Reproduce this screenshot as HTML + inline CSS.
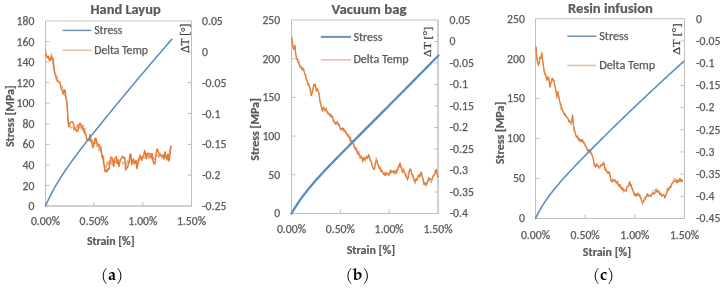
<!DOCTYPE html>
<html><head><meta charset="utf-8"><title>Figure</title>
<style>
html,body{margin:0;padding:0;background:#fff;}
body{width:727px;height:288px;overflow:hidden;}
svg{display:block;}
</style></head>
<body>
<svg width="727" height="288" viewBox="0 0 727 288">
<rect width="727" height="288" fill="#fff"/>
<rect x="45.5" y="21" width="146.0" height="185" fill="none" stroke="#C4C4C4" stroke-width="1"/>
<line x1="45.5" y1="21" x2="45.5" y2="206" stroke="#BFBFBF" stroke-width="1"/>
<line x1="191.5" y1="21" x2="191.5" y2="206" stroke="#BFBFBF" stroke-width="1"/>
<line x1="45.5" y1="206" x2="191.5" y2="206" stroke="#BFBFBF" stroke-width="1"/>
<text x="34.40" y="210.10" font-size="11.7" font-family="Carlito, 'Liberation Sans', sans-serif" text-anchor="end" fill="#595959" stroke="#595959" stroke-width="0.25" textLength="5.93" lengthAdjust="spacingAndGlyphs">0</text>
<line x1="45.5" y1="185.44" x2="49.5" y2="185.44" stroke="#BFBFBF" stroke-width="1"/>
<text x="34.40" y="189.54" font-size="11.7" font-family="Carlito, 'Liberation Sans', sans-serif" text-anchor="end" fill="#595959" stroke="#595959" stroke-width="0.25" textLength="11.86" lengthAdjust="spacingAndGlyphs">20</text>
<line x1="45.5" y1="164.89" x2="49.5" y2="164.89" stroke="#BFBFBF" stroke-width="1"/>
<text x="34.40" y="168.99" font-size="11.7" font-family="Carlito, 'Liberation Sans', sans-serif" text-anchor="end" fill="#595959" stroke="#595959" stroke-width="0.25" textLength="11.86" lengthAdjust="spacingAndGlyphs">40</text>
<line x1="45.5" y1="144.33" x2="49.5" y2="144.33" stroke="#BFBFBF" stroke-width="1"/>
<text x="34.40" y="148.43" font-size="11.7" font-family="Carlito, 'Liberation Sans', sans-serif" text-anchor="end" fill="#595959" stroke="#595959" stroke-width="0.25" textLength="11.86" lengthAdjust="spacingAndGlyphs">60</text>
<line x1="45.5" y1="123.78" x2="49.5" y2="123.78" stroke="#BFBFBF" stroke-width="1"/>
<text x="34.40" y="127.88" font-size="11.7" font-family="Carlito, 'Liberation Sans', sans-serif" text-anchor="end" fill="#595959" stroke="#595959" stroke-width="0.25" textLength="11.86" lengthAdjust="spacingAndGlyphs">80</text>
<line x1="45.5" y1="103.22" x2="49.5" y2="103.22" stroke="#BFBFBF" stroke-width="1"/>
<text x="34.40" y="107.32" font-size="11.7" font-family="Carlito, 'Liberation Sans', sans-serif" text-anchor="end" fill="#595959" stroke="#595959" stroke-width="0.25" textLength="17.79" lengthAdjust="spacingAndGlyphs">100</text>
<line x1="45.5" y1="82.67" x2="49.5" y2="82.67" stroke="#BFBFBF" stroke-width="1"/>
<text x="34.40" y="86.77" font-size="11.7" font-family="Carlito, 'Liberation Sans', sans-serif" text-anchor="end" fill="#595959" stroke="#595959" stroke-width="0.25" textLength="17.79" lengthAdjust="spacingAndGlyphs">120</text>
<line x1="45.5" y1="62.11" x2="49.5" y2="62.11" stroke="#BFBFBF" stroke-width="1"/>
<text x="34.40" y="66.21" font-size="11.7" font-family="Carlito, 'Liberation Sans', sans-serif" text-anchor="end" fill="#595959" stroke="#595959" stroke-width="0.25" textLength="17.79" lengthAdjust="spacingAndGlyphs">140</text>
<line x1="45.5" y1="41.56" x2="49.5" y2="41.56" stroke="#BFBFBF" stroke-width="1"/>
<text x="34.40" y="45.66" font-size="11.7" font-family="Carlito, 'Liberation Sans', sans-serif" text-anchor="end" fill="#595959" stroke="#595959" stroke-width="0.25" textLength="17.79" lengthAdjust="spacingAndGlyphs">160</text>
<text x="34.40" y="25.10" font-size="11.7" font-family="Carlito, 'Liberation Sans', sans-serif" text-anchor="end" fill="#595959" stroke="#595959" stroke-width="0.25" textLength="17.79" lengthAdjust="spacingAndGlyphs">180</text>
<text x="202.00" y="210.10" font-size="11.7" font-family="Carlito, 'Liberation Sans', sans-serif" text-anchor="start" fill="#595959" stroke="#595959" stroke-width="0.25" textLength="24.33" lengthAdjust="spacingAndGlyphs">-0.25</text>
<line x1="187.5" y1="175.17" x2="191.5" y2="175.17" stroke="#BFBFBF" stroke-width="1"/>
<text x="202.00" y="179.27" font-size="11.7" font-family="Carlito, 'Liberation Sans', sans-serif" text-anchor="start" fill="#595959" stroke="#595959" stroke-width="0.25" textLength="18.40" lengthAdjust="spacingAndGlyphs">-0.2</text>
<line x1="187.5" y1="144.33" x2="191.5" y2="144.33" stroke="#BFBFBF" stroke-width="1"/>
<text x="202.00" y="148.43" font-size="11.7" font-family="Carlito, 'Liberation Sans', sans-serif" text-anchor="start" fill="#595959" stroke="#595959" stroke-width="0.25" textLength="24.33" lengthAdjust="spacingAndGlyphs">-0.15</text>
<line x1="187.5" y1="113.50" x2="191.5" y2="113.50" stroke="#BFBFBF" stroke-width="1"/>
<text x="202.00" y="117.60" font-size="11.7" font-family="Carlito, 'Liberation Sans', sans-serif" text-anchor="start" fill="#595959" stroke="#595959" stroke-width="0.25" textLength="18.40" lengthAdjust="spacingAndGlyphs">-0.1</text>
<line x1="187.5" y1="82.67" x2="191.5" y2="82.67" stroke="#BFBFBF" stroke-width="1"/>
<text x="202.00" y="86.77" font-size="11.7" font-family="Carlito, 'Liberation Sans', sans-serif" text-anchor="start" fill="#595959" stroke="#595959" stroke-width="0.25" textLength="24.33" lengthAdjust="spacingAndGlyphs">-0.05</text>
<line x1="187.5" y1="51.83" x2="191.5" y2="51.83" stroke="#BFBFBF" stroke-width="1"/>
<text x="202.00" y="55.93" font-size="11.7" font-family="Carlito, 'Liberation Sans', sans-serif" text-anchor="start" fill="#595959" stroke="#595959" stroke-width="0.25" textLength="5.93" lengthAdjust="spacingAndGlyphs">0</text>
<text x="202.00" y="25.10" font-size="11.7" font-family="Carlito, 'Liberation Sans', sans-serif" text-anchor="start" fill="#595959" stroke="#595959" stroke-width="0.25" textLength="20.74" lengthAdjust="spacingAndGlyphs">0.05</text>
<text x="45.50" y="225.00" font-size="11.7" font-family="Carlito, 'Liberation Sans', sans-serif" text-anchor="middle" fill="#595959" stroke="#595959" stroke-width="0.25" textLength="29.11" lengthAdjust="spacingAndGlyphs">0.00%</text>
<line x1="94.17" y1="202" x2="94.17" y2="206" stroke="#BFBFBF" stroke-width="1"/>
<text x="94.17" y="225.00" font-size="11.7" font-family="Carlito, 'Liberation Sans', sans-serif" text-anchor="middle" fill="#595959" stroke="#595959" stroke-width="0.25" textLength="29.11" lengthAdjust="spacingAndGlyphs">0.50%</text>
<line x1="142.83" y1="202" x2="142.83" y2="206" stroke="#BFBFBF" stroke-width="1"/>
<text x="142.83" y="225.00" font-size="11.7" font-family="Carlito, 'Liberation Sans', sans-serif" text-anchor="middle" fill="#595959" stroke="#595959" stroke-width="0.25" textLength="29.11" lengthAdjust="spacingAndGlyphs">1.00%</text>
<text x="191.50" y="225.00" font-size="11.7" font-family="Carlito, 'Liberation Sans', sans-serif" text-anchor="middle" fill="#595959" stroke="#595959" stroke-width="0.25" textLength="29.11" lengthAdjust="spacingAndGlyphs">1.50%</text>
<text x="125.60" y="13.90" font-size="14.4" font-family="Carlito, 'Liberation Sans', sans-serif" font-weight="bold" text-anchor="middle" fill="#595959" stroke="#595959" stroke-width="0.2" textLength="70.12" lengthAdjust="spacingAndGlyphs">Hand Layup</text>
<text x="110.70" y="245.40" font-size="11.8" font-family="Carlito, 'Liberation Sans', sans-serif" font-weight="bold" text-anchor="middle" fill="#595959" stroke="#595959" stroke-width="0.2" textLength="47.59" lengthAdjust="spacingAndGlyphs">Strain [%]</text>
<text transform="translate(14.00,116.20) rotate(-90)" font-size="11.8" font-family="Carlito, 'Liberation Sans', sans-serif" font-weight="bold" text-anchor="middle" fill="#595959" stroke="#595959" stroke-width="0.2" textLength="61.60" lengthAdjust="spacingAndGlyphs">Stress [MPa]</text>
<text transform="translate(188.90,38.20) rotate(-90)" font-size="12" font-family="'Liberation Serif', serif" text-anchor="middle" fill="#404040" stroke="#404040" stroke-width="0.25" textLength="29.2" lengthAdjust="spacingAndGlyphs">ΔT [°]</text>
<line x1="62.6" y1="30.4" x2="91.4" y2="30.4" stroke="#6A92BC" stroke-width="1.5"/>
<line x1="62.6" y1="50.3" x2="91.4" y2="50.3" stroke="#E8BC9E" stroke-width="1.6"/>
<text x="94.20" y="33.90" font-size="11.7" font-family="Carlito, 'Liberation Sans', sans-serif" text-anchor="start" fill="#595959" stroke="#595959" stroke-width="0.25" textLength="28.19" lengthAdjust="spacingAndGlyphs">Stress</text>
<text x="94.20" y="53.50" font-size="11.7" font-family="Carlito, 'Liberation Sans', sans-serif" text-anchor="start" fill="#595959" stroke="#595959" stroke-width="0.25" textLength="53.71" lengthAdjust="spacingAndGlyphs">Delta Temp</text>
<polyline points="45.70,54.28 47.00,56.88 47.75,57.90 48.50,56.20 49.50,60.34 50.50,60.02 51.50,55.99 52.25,58.67 53.00,58.20 54.00,69.83 54.75,73.23 55.50,74.71 56.25,78.73 57.00,80.74 57.75,81.51 58.50,81.81 59.25,81.65 60.00,82.47 60.75,86.63 61.50,89.88 62.25,90.80 63.00,93.93 63.75,93.07 64.50,89.65 65.25,91.20 66.00,98.76 66.80,101.26 67.50,110.63 68.00,119.27 69.00,126.69 70.00,123.20 71.00,122.20 72.00,121.57 73.00,122.59 74.00,125.69 75.00,129.78 76.00,129.92 77.00,131.47 78.00,130.80 79.00,124.76 80.00,123.20 81.00,124.91 82.00,125.24 83.00,129.46 84.00,131.39 85.00,133.64 85.75,134.43 86.50,137.95 87.25,139.96 88.00,140.13 89.00,140.84 90.00,134.44 91.00,141.16 92.00,143.78 93.00,147.80 94.00,144.36 95.00,138.25 96.00,138.37 97.00,142.91 98.00,144.76 99.00,144.53 100.00,147.50 101.00,147.20 102.00,157.51 103.00,155.91 104.00,164.38 105.00,171.74 106.00,169.78 107.00,172.04 108.00,168.57 109.00,169.41 110.00,161.81 111.00,156.94 112.00,158.02 112.86,161.44 113.71,166.46 114.57,158.48 115.43,157.79 116.29,156.77 117.14,163.37 118.00,159.77 118.86,166.28 119.71,162.41 120.57,159.29 121.43,158.32 122.29,156.39 123.14,156.67 124.00,158.38 124.86,157.72 125.71,170.00 126.57,167.19 127.43,167.88 128.29,164.56 129.14,161.47 130.00,154.32 130.86,154.10 131.71,164.72 132.57,160.51 133.43,158.97 134.29,163.94 135.14,161.64 136.00,160.71 136.86,168.47 137.71,165.27 138.57,160.22 139.43,157.81 140.29,155.10 141.14,158.53 142.00,160.45 142.86,156.19 143.71,155.89 144.57,150.53 145.43,153.21 146.29,158.64 147.14,153.28 148.00,154.87 149.00,153.14 150.00,153.67 151.00,157.49 152.00,153.48 153.00,160.67 154.00,164.00 155.00,163.54 156.00,154.74 157.00,148.96 158.00,150.61 159.00,154.39 160.00,155.12 161.00,155.04 162.00,156.08 163.00,154.94 164.00,159.11 165.00,151.75 166.00,157.02 167.00,159.94 168.00,154.15 169.00,161.04 170.00,154.02 171.00,146.00" fill="none" stroke="#E57C38" stroke-width="1.5" stroke-linejoin="round" stroke-linecap="round"/>
<polyline points="45.70,49.25 47.00,56.68 48.50,59.24 49.50,59.63 50.50,61.52 51.50,53.89 53.00,64.93 54.00,64.85 55.50,77.04 57.00,75.82 58.50,80.33 60.00,84.06 61.50,85.61 63.00,88.44 64.50,96.01 66.00,96.01 66.80,103.86 67.50,112.52 68.00,124.18 69.00,127.29 70.00,126.20 71.00,128.38 72.00,127.61 73.00,126.56 74.00,130.42 75.00,127.11 76.00,130.14 77.00,124.22 78.00,128.23 79.00,125.09 80.00,128.58 81.00,125.05 82.00,129.63 83.00,125.41 84.00,131.72 85.00,127.93 86.50,138.87 88.00,139.34 89.00,139.54 90.00,137.30 91.00,142.05 92.00,138.92 93.00,144.72 94.00,141.08 95.00,143.98 96.00,139.90 97.00,147.21 98.00,144.99 99.00,151.22 100.00,148.31 101.00,153.07 102.00,153.97 103.00,161.50 104.00,165.40 105.00,165.00 106.00,168.22 107.00,161.87 108.00,165.15 109.00,160.68 110.00,164.48 111.00,159.92 112.00,165.16 113.20,164.33 114.40,164.10 115.60,160.71 116.80,163.99 118.00,159.98 119.20,162.89 120.40,160.23 121.60,161.79 122.80,164.52 124.00,161.88 125.20,161.06 126.40,165.12 127.60,160.49 128.80,163.67 130.00,157.52 131.20,161.65 132.40,162.13 133.60,159.52 134.80,164.03 136.00,160.44 137.20,163.30 138.40,158.36 139.60,160.70 140.80,157.24 142.00,158.52 143.20,156.08 144.40,158.53 145.60,155.60 146.80,158.93 148.00,154.65 149.00,158.83 150.00,154.89 151.00,158.71 152.00,159.41 153.00,156.61 154.00,159.75 155.00,159.30 156.00,154.43 157.00,156.48 158.00,154.85 159.00,157.99 160.00,152.55 161.00,157.51 162.00,158.16 163.00,154.37 164.00,157.91 165.00,158.37 166.00,155.11 167.00,158.96 168.00,154.40 169.00,155.27 170.00,148.00 171.00,146.00" fill="none" stroke="#E57C38" stroke-width="0.8" stroke-linejoin="round" stroke-linecap="round" stroke-opacity="0.85"/>
<polyline points="45.50,206.00 46.00,204.86 46.50,203.73 47.00,202.63 47.50,201.54 48.00,200.47 48.50,199.42 49.00,198.38 49.50,197.36 50.00,196.35 50.50,195.36 51.00,194.38 51.50,193.42 52.50,191.53 54.50,187.89 56.50,184.41 58.50,181.08 60.50,177.86 62.50,174.75 64.50,171.73 66.50,168.78 68.50,165.90 70.50,163.08 72.50,160.31 74.50,157.58 76.50,154.88 78.50,152.22 80.50,149.59 82.50,146.98 84.50,144.39 86.50,141.82 88.50,139.27 90.50,136.73 92.50,134.21 94.50,131.69 96.50,129.19 98.50,126.70 100.50,124.22 102.50,121.75 104.50,119.28 106.50,116.82 108.50,114.37 110.50,111.92 112.50,109.49 114.50,107.05 116.50,104.62 118.50,102.20 120.50,99.78 122.50,97.37 124.50,94.96 126.50,92.56 128.50,90.16 130.50,87.77 132.50,85.38 134.50,83.00 136.50,80.62 138.50,78.24 140.50,75.87 142.50,73.50 144.50,71.14 146.50,68.78 148.50,66.43 150.50,64.08 152.50,61.73 154.50,59.39 156.50,57.05 158.50,54.72 160.50,52.39 162.50,50.07 164.50,47.75 166.50,45.43 168.50,43.12 170.50,40.81 171.90,39.20" fill="none" stroke="#5A8CC2" stroke-width="1.55" stroke-linejoin="round" stroke-linecap="round"/>
<text x="112.00" y="280.40" font-size="16" font-family="'TeX Gyre Pagella', 'Liberation Serif', serif" text-anchor="middle" fill="#000">(<tspan font-weight="bold">a</tspan>)</text>
<rect x="291.5" y="20" width="146.5" height="193.5" fill="none" stroke="#C4C4C4" stroke-width="1"/>
<line x1="291.5" y1="20" x2="291.5" y2="213.5" stroke="#BFBFBF" stroke-width="1"/>
<line x1="438" y1="20" x2="438" y2="213.5" stroke="#BFBFBF" stroke-width="1"/>
<line x1="291.5" y1="213.5" x2="438" y2="213.5" stroke="#BFBFBF" stroke-width="1"/>
<text x="280.20" y="217.30" font-size="11.7" font-family="Carlito, 'Liberation Sans', sans-serif" text-anchor="end" fill="#595959" stroke="#595959" stroke-width="0.25" textLength="5.93" lengthAdjust="spacingAndGlyphs">0</text>
<line x1="291.5" y1="174.80" x2="295.5" y2="174.80" stroke="#BFBFBF" stroke-width="1"/>
<text x="280.20" y="178.60" font-size="11.7" font-family="Carlito, 'Liberation Sans', sans-serif" text-anchor="end" fill="#595959" stroke="#595959" stroke-width="0.25" textLength="11.86" lengthAdjust="spacingAndGlyphs">50</text>
<line x1="291.5" y1="136.10" x2="295.5" y2="136.10" stroke="#BFBFBF" stroke-width="1"/>
<text x="280.20" y="139.90" font-size="11.7" font-family="Carlito, 'Liberation Sans', sans-serif" text-anchor="end" fill="#595959" stroke="#595959" stroke-width="0.25" textLength="17.79" lengthAdjust="spacingAndGlyphs">100</text>
<line x1="291.5" y1="97.40" x2="295.5" y2="97.40" stroke="#BFBFBF" stroke-width="1"/>
<text x="280.20" y="101.20" font-size="11.7" font-family="Carlito, 'Liberation Sans', sans-serif" text-anchor="end" fill="#595959" stroke="#595959" stroke-width="0.25" textLength="17.79" lengthAdjust="spacingAndGlyphs">150</text>
<line x1="291.5" y1="58.70" x2="295.5" y2="58.70" stroke="#BFBFBF" stroke-width="1"/>
<text x="280.20" y="62.50" font-size="11.7" font-family="Carlito, 'Liberation Sans', sans-serif" text-anchor="end" fill="#595959" stroke="#595959" stroke-width="0.25" textLength="17.79" lengthAdjust="spacingAndGlyphs">200</text>
<text x="280.20" y="23.80" font-size="11.7" font-family="Carlito, 'Liberation Sans', sans-serif" text-anchor="end" fill="#595959" stroke="#595959" stroke-width="0.25" textLength="17.79" lengthAdjust="spacingAndGlyphs">250</text>
<text x="449.50" y="217.30" font-size="11.7" font-family="Carlito, 'Liberation Sans', sans-serif" text-anchor="start" fill="#595959" stroke="#595959" stroke-width="0.25" textLength="18.40" lengthAdjust="spacingAndGlyphs">-0.4</text>
<line x1="434" y1="192.00" x2="438" y2="192.00" stroke="#BFBFBF" stroke-width="1"/>
<text x="449.50" y="195.80" font-size="11.7" font-family="Carlito, 'Liberation Sans', sans-serif" text-anchor="start" fill="#595959" stroke="#595959" stroke-width="0.25" textLength="24.33" lengthAdjust="spacingAndGlyphs">-0.35</text>
<line x1="434" y1="170.50" x2="438" y2="170.50" stroke="#BFBFBF" stroke-width="1"/>
<text x="449.50" y="174.30" font-size="11.7" font-family="Carlito, 'Liberation Sans', sans-serif" text-anchor="start" fill="#595959" stroke="#595959" stroke-width="0.25" textLength="18.40" lengthAdjust="spacingAndGlyphs">-0.3</text>
<line x1="434" y1="149.00" x2="438" y2="149.00" stroke="#BFBFBF" stroke-width="1"/>
<text x="449.50" y="152.80" font-size="11.7" font-family="Carlito, 'Liberation Sans', sans-serif" text-anchor="start" fill="#595959" stroke="#595959" stroke-width="0.25" textLength="24.33" lengthAdjust="spacingAndGlyphs">-0.25</text>
<line x1="434" y1="127.50" x2="438" y2="127.50" stroke="#BFBFBF" stroke-width="1"/>
<text x="449.50" y="131.30" font-size="11.7" font-family="Carlito, 'Liberation Sans', sans-serif" text-anchor="start" fill="#595959" stroke="#595959" stroke-width="0.25" textLength="18.40" lengthAdjust="spacingAndGlyphs">-0.2</text>
<line x1="434" y1="106.00" x2="438" y2="106.00" stroke="#BFBFBF" stroke-width="1"/>
<text x="449.50" y="109.80" font-size="11.7" font-family="Carlito, 'Liberation Sans', sans-serif" text-anchor="start" fill="#595959" stroke="#595959" stroke-width="0.25" textLength="24.33" lengthAdjust="spacingAndGlyphs">-0.15</text>
<line x1="434" y1="84.50" x2="438" y2="84.50" stroke="#BFBFBF" stroke-width="1"/>
<text x="449.50" y="88.30" font-size="11.7" font-family="Carlito, 'Liberation Sans', sans-serif" text-anchor="start" fill="#595959" stroke="#595959" stroke-width="0.25" textLength="18.40" lengthAdjust="spacingAndGlyphs">-0.1</text>
<line x1="434" y1="63.00" x2="438" y2="63.00" stroke="#BFBFBF" stroke-width="1"/>
<text x="449.50" y="66.80" font-size="11.7" font-family="Carlito, 'Liberation Sans', sans-serif" text-anchor="start" fill="#595959" stroke="#595959" stroke-width="0.25" textLength="24.33" lengthAdjust="spacingAndGlyphs">-0.05</text>
<line x1="434" y1="41.50" x2="438" y2="41.50" stroke="#BFBFBF" stroke-width="1"/>
<text x="449.50" y="45.30" font-size="11.7" font-family="Carlito, 'Liberation Sans', sans-serif" text-anchor="start" fill="#595959" stroke="#595959" stroke-width="0.25" textLength="5.93" lengthAdjust="spacingAndGlyphs">0</text>
<text x="449.50" y="23.80" font-size="11.7" font-family="Carlito, 'Liberation Sans', sans-serif" text-anchor="start" fill="#595959" stroke="#595959" stroke-width="0.25" textLength="20.74" lengthAdjust="spacingAndGlyphs">0.05</text>
<text x="291.50" y="233.00" font-size="11.7" font-family="Carlito, 'Liberation Sans', sans-serif" text-anchor="middle" fill="#595959" stroke="#595959" stroke-width="0.25" textLength="29.11" lengthAdjust="spacingAndGlyphs">0.00%</text>
<line x1="340.33" y1="209.5" x2="340.33" y2="213.5" stroke="#BFBFBF" stroke-width="1"/>
<text x="340.33" y="233.00" font-size="11.7" font-family="Carlito, 'Liberation Sans', sans-serif" text-anchor="middle" fill="#595959" stroke="#595959" stroke-width="0.25" textLength="29.11" lengthAdjust="spacingAndGlyphs">0.50%</text>
<line x1="389.17" y1="209.5" x2="389.17" y2="213.5" stroke="#BFBFBF" stroke-width="1"/>
<text x="389.17" y="233.00" font-size="11.7" font-family="Carlito, 'Liberation Sans', sans-serif" text-anchor="middle" fill="#595959" stroke="#595959" stroke-width="0.25" textLength="29.11" lengthAdjust="spacingAndGlyphs">1.00%</text>
<text x="438.00" y="233.00" font-size="11.7" font-family="Carlito, 'Liberation Sans', sans-serif" text-anchor="middle" fill="#595959" stroke="#595959" stroke-width="0.25" textLength="29.11" lengthAdjust="spacingAndGlyphs">1.50%</text>
<text x="369.00" y="13.90" font-size="14.8" font-family="Carlito, 'Liberation Sans', sans-serif" font-weight="bold" text-anchor="middle" fill="#595959" stroke="#595959" stroke-width="0.2" textLength="74.97" lengthAdjust="spacingAndGlyphs">Vacuum bag</text>
<text x="370.90" y="253.60" font-size="12" font-family="Carlito, 'Liberation Sans', sans-serif" font-weight="bold" text-anchor="middle" fill="#595959" stroke="#595959" stroke-width="0.2" textLength="48.40" lengthAdjust="spacingAndGlyphs">Strain [%]</text>
<text transform="translate(258.70,129.40) rotate(-90)" font-size="12" font-family="Carlito, 'Liberation Sans', sans-serif" font-weight="bold" text-anchor="middle" fill="#595959" stroke="#595959" stroke-width="0.2" textLength="62.65" lengthAdjust="spacingAndGlyphs">Stress [MPa]</text>
<text transform="translate(431.40,41.90) rotate(-90)" font-size="10.8" font-family="'Liberation Serif', serif" text-anchor="middle" fill="#404040" stroke="#404040" stroke-width="0.25" textLength="30" lengthAdjust="spacingAndGlyphs">ΔT [°]</text>
<line x1="320.8" y1="36.9" x2="351" y2="36.9" stroke="#6A92BC" stroke-width="2.0"/>
<line x1="320.8" y1="59.8" x2="351" y2="59.8" stroke="#E2C2AE" stroke-width="1.6"/>
<text x="353.40" y="40.50" font-size="12.05" font-family="Carlito, 'Liberation Sans', sans-serif" text-anchor="start" fill="#595959" stroke="#595959" stroke-width="0.25" textLength="29.04" lengthAdjust="spacingAndGlyphs">Stress</text>
<text x="353.40" y="63.20" font-size="12.05" font-family="Carlito, 'Liberation Sans', sans-serif" text-anchor="start" fill="#595959" stroke="#595959" stroke-width="0.25" textLength="55.31" lengthAdjust="spacingAndGlyphs">Delta Temp</text>
<polyline points="292.00,38.48 292.88,46.40 293.75,49.48 294.38,49.38 295.00,45.30 295.62,53.12 296.25,56.28 297.08,58.14 297.92,62.44 298.75,62.49 299.58,66.02 300.42,67.65 301.25,66.97 302.08,70.05 302.92,68.01 303.75,69.25 304.58,73.61 305.42,75.29 306.25,80.00 307.00,80.65 307.75,84.06 308.50,83.78 309.25,85.62 310.00,89.19 310.62,91.37 311.25,95.71 312.08,93.29 312.92,89.79 313.75,84.55 314.38,85.38 315.00,84.26 315.62,85.58 316.25,91.33 316.88,88.73 317.50,89.04 318.33,90.73 319.17,94.96 320.00,100.94 321.00,104.25 322.00,110.77 322.88,108.00 323.75,108.51 324.58,110.07 325.42,109.30 326.25,111.34 327.08,111.24 327.92,113.75 328.75,113.46 329.50,115.64 330.25,114.80 331.00,117.14 331.75,115.92 332.50,116.68 333.33,120.64 334.17,122.67 335.00,122.39 335.83,124.41 336.67,121.85 337.50,121.68 338.33,124.94 339.17,124.36 340.00,128.08 340.75,128.35 341.50,129.13 342.25,128.18 343.00,129.62 343.75,128.43 344.50,131.54 345.25,130.90 346.00,133.80 346.75,133.90 347.50,134.23 348.33,136.84 349.17,136.49 350.00,138.43 350.83,141.52 351.67,140.81 352.50,143.10 353.33,143.81 354.17,147.43 355.00,147.14 355.75,149.85 356.50,149.42 357.25,152.34 358.00,151.70 358.75,154.78 359.50,154.46 360.25,156.97 361.00,157.06 361.75,157.41 362.50,160.45 363.33,158.23 364.17,159.89 365.00,157.93 365.75,159.03 366.50,157.46 367.25,156.39 368.00,157.57 368.75,154.98 369.58,157.57 370.42,161.24 371.25,161.48 372.08,165.83 372.92,167.10 373.75,169.54 374.58,168.65 375.42,163.08 376.25,161.03 377.08,160.78 377.92,164.36 378.75,166.00 379.50,168.84 380.25,167.87 381.00,171.50 381.75,170.20 382.50,172.26 383.33,174.05 384.17,174.28 385.00,175.28 385.83,173.00 386.67,174.79 387.50,173.85 388.33,174.94 389.17,173.22 390.00,171.62 390.83,173.15 391.67,170.80 392.50,171.87 393.25,170.85 394.00,172.64 394.75,170.76 395.50,171.58 396.25,173.73 397.00,170.71 397.75,169.85 398.50,166.72 399.25,166.94 400.00,162.99 400.83,167.03 401.67,168.32 402.50,172.75 403.33,170.94 404.17,171.35 405.00,173.65 405.83,176.25 406.67,177.26 407.50,179.38 408.33,176.93 409.17,171.28 410.00,168.88 410.83,169.37 411.67,174.34 412.50,174.29 413.33,176.45 414.17,180.64 415.00,181.68 415.83,179.12 416.67,180.34 417.50,178.09 418.25,175.07 419.00,176.57 419.75,174.15 420.50,175.03 421.25,171.95 422.08,176.31 422.92,178.09 423.75,182.77 424.58,184.58 425.42,183.10 426.25,184.35 427.08,183.33 427.92,180.17 428.75,177.54 429.58,179.75 430.42,178.82 431.25,179.52 432.08,179.92 432.92,176.13 433.75,175.65 434.58,174.72 435.42,171.06 436.25,169.42 437.12,174.18 438.00,177.00" fill="none" stroke="#E57C38" stroke-width="1.3" stroke-linejoin="round" stroke-linecap="round"/>
<polyline points="292.00,36.95 292.88,48.28 293.75,46.84 295.00,45.15 296.25,59.56 297.50,58.90 298.75,59.74 300.00,65.54 301.25,66.66 302.50,70.17 303.75,72.03 305.00,72.91 306.25,76.69 307.50,81.39 308.75,86.79 310.00,86.38 311.25,95.88 312.50,88.00 313.75,87.82 315.00,83.57 316.25,88.95 317.50,90.15 318.75,92.43 320.00,102.70 321.00,107.04 322.00,107.59 322.88,111.82 323.75,105.88 325.00,111.30 326.25,107.22 327.50,113.53 328.75,112.55 330.00,114.01 331.25,113.84 332.50,119.28 333.75,118.97 335.00,122.62 336.25,123.81 337.50,124.78 338.75,123.56 340.00,128.76 341.25,131.01 342.50,127.65 343.75,131.88 345.00,130.31 346.25,131.75 347.50,136.33 348.50,133.74 349.50,140.55 350.50,137.06 351.50,142.32 352.50,140.05 353.75,142.46 355.00,149.46 356.25,147.45 357.50,154.45 358.75,151.14 360.00,158.90 361.25,155.34 362.50,162.84 363.75,156.60 365.00,161.39 366.25,155.62 367.50,159.12 368.75,154.33 370.00,160.89 371.25,161.57 372.50,167.37 373.75,169.45 375.00,165.90 376.25,157.72 377.50,164.84 378.75,166.33 380.00,166.15 381.25,171.29 382.50,170.64 383.50,174.49 384.50,171.80 385.50,175.91 386.50,172.28 387.50,173.17 388.50,173.71 389.50,175.40 390.50,169.25 391.50,172.69 392.50,172.28 393.75,173.89 395.00,173.79 396.25,169.11 397.50,171.28 398.75,164.40 400.00,165.95 401.25,165.29 402.50,172.34 403.75,168.35 405.00,173.90 406.25,173.53 407.50,180.91 408.75,172.66 410.00,170.12 411.25,171.25 412.50,177.82 413.75,177.72 415.00,183.83 416.25,178.04 417.50,179.93 418.75,175.34 420.00,177.91 421.25,171.99 422.50,177.38 423.75,185.01 425.00,181.86 426.25,186.72 427.50,180.20 428.75,181.88 430.00,179.10 431.25,182.98 432.50,177.45 433.75,174.42 435.00,173.97 436.25,169.50 437.12,174.46 438.00,177.00" fill="none" stroke="#E57C38" stroke-width="0.8" stroke-linejoin="round" stroke-linecap="round" stroke-opacity="0.85"/>
<polyline points="291.50,213.50 292.00,212.62 292.50,211.76 293.00,210.91 293.50,210.07 294.00,209.25 294.50,208.43 295.00,207.63 295.50,206.83 296.00,206.05 296.50,205.28 297.00,204.51 297.50,203.76 298.50,202.28 300.50,199.41 302.50,196.66 304.50,194.01 306.50,191.45 308.50,188.96 310.50,186.54 312.50,184.18 314.50,181.87 316.50,179.60 318.50,177.37 320.50,175.18 322.50,173.01 324.50,170.87 326.50,168.75 328.50,166.64 330.50,164.55 332.50,162.48 334.50,160.42 336.50,158.37 338.50,156.32 340.50,154.29 342.50,152.26 344.50,150.23 346.50,148.21 348.50,146.20 350.50,144.18 352.50,142.17 354.50,140.16 356.50,138.16 358.50,136.15 360.50,134.15 362.50,132.14 364.50,130.14 366.50,128.14 368.50,126.13 370.50,124.13 372.50,122.12 374.50,120.12 376.50,118.11 378.50,116.11 380.50,114.10 382.50,112.09 384.50,110.09 386.50,108.08 388.50,106.07 390.50,104.06 392.50,102.04 394.50,100.03 396.50,98.02 398.50,96.00 400.50,93.99 402.50,91.97 404.50,89.95 406.50,87.93 408.50,85.91 410.50,83.89 412.50,81.86 414.50,79.84 416.50,77.81 418.50,75.79 420.50,73.76 422.50,71.73 424.50,69.70 426.50,67.67 428.50,65.63 430.50,63.60 432.50,61.56 434.50,59.52 436.50,57.49 438.50,55.45" fill="none" stroke="#5A8CC2" stroke-width="2.3" stroke-linejoin="round" stroke-linecap="round"/>
<text x="357.70" y="280.40" font-size="16" font-family="'TeX Gyre Pagella', 'Liberation Serif', serif" text-anchor="middle" fill="#000">(<tspan font-weight="bold">b</tspan>)</text>
<rect x="535.5" y="18.75" width="149.0" height="199.75" fill="none" stroke="#C4C4C4" stroke-width="1"/>
<line x1="535.5" y1="18.75" x2="535.5" y2="218.5" stroke="#BFBFBF" stroke-width="1"/>
<line x1="684.5" y1="18.75" x2="684.5" y2="218.5" stroke="#BFBFBF" stroke-width="1"/>
<line x1="535.5" y1="218.5" x2="684.5" y2="218.5" stroke="#BFBFBF" stroke-width="1"/>
<text x="524.90" y="222.30" font-size="11.7" font-family="Carlito, 'Liberation Sans', sans-serif" text-anchor="end" fill="#595959" stroke="#595959" stroke-width="0.25" textLength="5.93" lengthAdjust="spacingAndGlyphs">0</text>
<line x1="535.5" y1="178.55" x2="539.5" y2="178.55" stroke="#BFBFBF" stroke-width="1"/>
<text x="524.90" y="182.35" font-size="11.7" font-family="Carlito, 'Liberation Sans', sans-serif" text-anchor="end" fill="#595959" stroke="#595959" stroke-width="0.25" textLength="11.86" lengthAdjust="spacingAndGlyphs">50</text>
<line x1="535.5" y1="138.60" x2="539.5" y2="138.60" stroke="#BFBFBF" stroke-width="1"/>
<text x="524.90" y="142.40" font-size="11.7" font-family="Carlito, 'Liberation Sans', sans-serif" text-anchor="end" fill="#595959" stroke="#595959" stroke-width="0.25" textLength="17.79" lengthAdjust="spacingAndGlyphs">100</text>
<line x1="535.5" y1="98.65" x2="539.5" y2="98.65" stroke="#BFBFBF" stroke-width="1"/>
<text x="524.90" y="102.45" font-size="11.7" font-family="Carlito, 'Liberation Sans', sans-serif" text-anchor="end" fill="#595959" stroke="#595959" stroke-width="0.25" textLength="17.79" lengthAdjust="spacingAndGlyphs">150</text>
<line x1="535.5" y1="58.70" x2="539.5" y2="58.70" stroke="#BFBFBF" stroke-width="1"/>
<text x="524.90" y="62.50" font-size="11.7" font-family="Carlito, 'Liberation Sans', sans-serif" text-anchor="end" fill="#595959" stroke="#595959" stroke-width="0.25" textLength="17.79" lengthAdjust="spacingAndGlyphs">200</text>
<text x="524.90" y="22.55" font-size="11.7" font-family="Carlito, 'Liberation Sans', sans-serif" text-anchor="end" fill="#595959" stroke="#595959" stroke-width="0.25" textLength="17.79" lengthAdjust="spacingAndGlyphs">250</text>
<text x="696.00" y="222.30" font-size="11.7" font-family="Carlito, 'Liberation Sans', sans-serif" text-anchor="start" fill="#595959" stroke="#595959" stroke-width="0.25" textLength="24.33" lengthAdjust="spacingAndGlyphs">-0.45</text>
<line x1="680.5" y1="196.31" x2="684.5" y2="196.31" stroke="#BFBFBF" stroke-width="1"/>
<text x="696.00" y="200.11" font-size="11.7" font-family="Carlito, 'Liberation Sans', sans-serif" text-anchor="start" fill="#595959" stroke="#595959" stroke-width="0.25" textLength="18.40" lengthAdjust="spacingAndGlyphs">-0.4</text>
<line x1="680.5" y1="174.11" x2="684.5" y2="174.11" stroke="#BFBFBF" stroke-width="1"/>
<text x="696.00" y="177.91" font-size="11.7" font-family="Carlito, 'Liberation Sans', sans-serif" text-anchor="start" fill="#595959" stroke="#595959" stroke-width="0.25" textLength="24.33" lengthAdjust="spacingAndGlyphs">-0.35</text>
<line x1="680.5" y1="151.92" x2="684.5" y2="151.92" stroke="#BFBFBF" stroke-width="1"/>
<text x="696.00" y="155.72" font-size="11.7" font-family="Carlito, 'Liberation Sans', sans-serif" text-anchor="start" fill="#595959" stroke="#595959" stroke-width="0.25" textLength="18.40" lengthAdjust="spacingAndGlyphs">-0.3</text>
<line x1="680.5" y1="129.72" x2="684.5" y2="129.72" stroke="#BFBFBF" stroke-width="1"/>
<text x="696.00" y="133.52" font-size="11.7" font-family="Carlito, 'Liberation Sans', sans-serif" text-anchor="start" fill="#595959" stroke="#595959" stroke-width="0.25" textLength="24.33" lengthAdjust="spacingAndGlyphs">-0.25</text>
<line x1="680.5" y1="107.53" x2="684.5" y2="107.53" stroke="#BFBFBF" stroke-width="1"/>
<text x="696.00" y="111.33" font-size="11.7" font-family="Carlito, 'Liberation Sans', sans-serif" text-anchor="start" fill="#595959" stroke="#595959" stroke-width="0.25" textLength="18.40" lengthAdjust="spacingAndGlyphs">-0.2</text>
<line x1="680.5" y1="85.33" x2="684.5" y2="85.33" stroke="#BFBFBF" stroke-width="1"/>
<text x="696.00" y="89.13" font-size="11.7" font-family="Carlito, 'Liberation Sans', sans-serif" text-anchor="start" fill="#595959" stroke="#595959" stroke-width="0.25" textLength="24.33" lengthAdjust="spacingAndGlyphs">-0.15</text>
<line x1="680.5" y1="63.14" x2="684.5" y2="63.14" stroke="#BFBFBF" stroke-width="1"/>
<text x="696.00" y="66.94" font-size="11.7" font-family="Carlito, 'Liberation Sans', sans-serif" text-anchor="start" fill="#595959" stroke="#595959" stroke-width="0.25" textLength="18.40" lengthAdjust="spacingAndGlyphs">-0.1</text>
<line x1="680.5" y1="40.94" x2="684.5" y2="40.94" stroke="#BFBFBF" stroke-width="1"/>
<text x="696.00" y="44.74" font-size="11.7" font-family="Carlito, 'Liberation Sans', sans-serif" text-anchor="start" fill="#595959" stroke="#595959" stroke-width="0.25" textLength="24.33" lengthAdjust="spacingAndGlyphs">-0.05</text>
<text x="696.00" y="22.55" font-size="11.7" font-family="Carlito, 'Liberation Sans', sans-serif" text-anchor="start" fill="#595959" stroke="#595959" stroke-width="0.25" textLength="5.93" lengthAdjust="spacingAndGlyphs">0</text>
<text x="535.50" y="238.50" font-size="11.7" font-family="Carlito, 'Liberation Sans', sans-serif" text-anchor="middle" fill="#595959" stroke="#595959" stroke-width="0.25" textLength="29.11" lengthAdjust="spacingAndGlyphs">0.00%</text>
<line x1="585.17" y1="214.5" x2="585.17" y2="218.5" stroke="#BFBFBF" stroke-width="1"/>
<text x="585.17" y="238.50" font-size="11.7" font-family="Carlito, 'Liberation Sans', sans-serif" text-anchor="middle" fill="#595959" stroke="#595959" stroke-width="0.25" textLength="29.11" lengthAdjust="spacingAndGlyphs">0.50%</text>
<line x1="634.83" y1="214.5" x2="634.83" y2="218.5" stroke="#BFBFBF" stroke-width="1"/>
<text x="634.83" y="238.50" font-size="11.7" font-family="Carlito, 'Liberation Sans', sans-serif" text-anchor="middle" fill="#595959" stroke="#595959" stroke-width="0.25" textLength="29.11" lengthAdjust="spacingAndGlyphs">1.00%</text>
<text x="684.50" y="238.50" font-size="11.7" font-family="Carlito, 'Liberation Sans', sans-serif" text-anchor="middle" fill="#595959" stroke="#595959" stroke-width="0.25" textLength="29.11" lengthAdjust="spacingAndGlyphs">1.50%</text>
<text x="610.50" y="12.70" font-size="14.6" font-family="Carlito, 'Liberation Sans', sans-serif" font-weight="bold" text-anchor="middle" fill="#595959" stroke="#595959" stroke-width="0.2" textLength="84.79" lengthAdjust="spacingAndGlyphs">Resin infusion</text>
<text x="607.00" y="255.70" font-size="12" font-family="Carlito, 'Liberation Sans', sans-serif" font-weight="bold" text-anchor="middle" fill="#595959" stroke="#595959" stroke-width="0.2" textLength="48.40" lengthAdjust="spacingAndGlyphs">Strain [%]</text>
<text transform="translate(504.00,133.00) rotate(-90)" font-size="12" font-family="Carlito, 'Liberation Sans', sans-serif" font-weight="bold" text-anchor="middle" fill="#595959" stroke="#595959" stroke-width="0.2" textLength="62.65" lengthAdjust="spacingAndGlyphs">Stress [MPa]</text>
<text transform="translate(679.70,39.10) rotate(-90)" font-size="11.3" font-family="'Liberation Serif', serif" text-anchor="middle" fill="#404040" stroke="#404040" stroke-width="0.25" textLength="31.5" lengthAdjust="spacingAndGlyphs">ΔT [°]</text>
<line x1="567.3" y1="36.2" x2="596.3" y2="36.2" stroke="#6A92BC" stroke-width="1.5"/>
<line x1="567.3" y1="65.5" x2="596.3" y2="65.5" stroke="#E2BFA8" stroke-width="1.6"/>
<text x="599.20" y="39.70" font-size="12.2" font-family="Carlito, 'Liberation Sans', sans-serif" text-anchor="start" fill="#595959" stroke="#595959" stroke-width="0.25" textLength="29.40" lengthAdjust="spacingAndGlyphs">Stress</text>
<text x="599.20" y="68.70" font-size="12.2" font-family="Carlito, 'Liberation Sans', sans-serif" text-anchor="start" fill="#595959" stroke="#595959" stroke-width="0.25" textLength="56.00" lengthAdjust="spacingAndGlyphs">Delta Temp</text>
<polyline points="536.00,47.13 536.75,58.16 537.62,62.85 538.50,64.79 539.25,63.20 540.00,57.18 540.88,57.64 541.75,53.87 542.38,59.59 543.00,64.02 543.62,66.70 544.25,72.34 545.08,74.91 545.92,75.14 546.75,80.11 547.62,79.39 548.50,76.82 549.25,81.29 550.00,87.42 550.88,82.49 551.75,81.66 552.38,78.41 553.00,79.00 554.00,81.34 555.00,86.32 555.88,90.89 556.75,95.98 557.38,95.91 558.00,92.19 558.62,96.73 559.25,99.08 560.25,103.05 561.25,105.70 562.08,110.02 562.92,110.99 563.75,112.53 564.58,115.24 565.42,115.25 566.25,115.93 567.08,117.34 567.92,118.33 568.75,121.55 569.58,120.66 570.42,122.48 571.25,121.58 571.88,120.77 572.50,114.92 573.12,122.67 573.75,127.01 574.38,131.07 575.00,131.79 575.83,135.39 576.67,137.21 577.50,136.72 578.33,139.61 579.17,138.50 580.00,140.91 580.83,139.50 581.67,141.52 582.50,139.43 583.33,143.08 584.17,142.84 585.00,145.05 585.83,147.03 586.67,147.54 587.50,150.84 588.33,149.75 589.17,151.22 590.00,150.26 591.00,153.74 592.00,155.14 592.88,156.51 593.75,161.59 594.50,165.79 595.38,166.97 596.25,163.97 597.08,166.00 597.92,165.12 598.75,167.57 599.58,166.62 600.42,166.47 601.25,164.55 602.08,165.62 602.92,163.27 603.75,163.61 604.38,165.87 605.00,169.99 605.83,169.27 606.67,172.21 607.50,171.76 608.33,173.37 609.17,172.29 610.00,174.73 610.62,178.55 611.25,180.65 612.08,182.22 612.92,180.03 613.75,180.62 614.50,179.91 615.25,181.71 616.00,181.36 616.75,182.53 617.50,181.36 618.25,184.97 619.00,185.69 619.75,184.49 620.50,187.64 621.25,187.06 622.00,189.12 622.75,187.84 623.50,190.28 624.25,190.28 625.00,190.16 625.83,190.85 626.67,188.02 627.50,186.31 628.50,185.98 629.50,181.76 630.38,185.48 631.25,184.76 632.08,188.95 632.92,189.81 633.75,192.77 634.38,192.78 635.00,196.09 635.83,194.03 636.67,195.65 637.50,193.09 638.33,195.65 639.17,194.28 640.00,196.92 640.83,198.05 641.67,201.20 642.50,201.89 643.33,202.08 644.17,200.06 645.00,199.79 645.83,196.75 646.67,196.82 647.50,193.93 648.33,196.12 649.17,195.25 650.00,195.47 650.83,195.94 651.67,193.97 652.50,193.94 653.33,192.48 654.17,194.18 655.00,193.10 655.83,190.41 656.67,192.02 657.50,190.27 658.33,192.46 659.17,191.91 660.00,194.54 660.83,193.36 661.67,196.08 662.50,195.59 663.33,195.08 664.17,195.47 665.00,198.16 665.83,194.54 666.67,193.96 667.50,190.55 668.33,188.25 669.17,188.92 670.00,186.36 670.83,187.24 671.67,183.70 672.50,183.52 673.33,181.70 674.17,181.25 675.00,180.46 675.83,181.74 676.67,180.17 677.50,182.87 678.33,180.09 679.17,181.66 680.00,179.04 680.83,181.64 681.67,179.55 682.50,181.25" fill="none" stroke="#E57C38" stroke-width="1.3" stroke-linejoin="round" stroke-linecap="round"/>
<polyline points="536.00,46.70 536.75,58.23 537.62,60.45 538.50,66.31 540.00,57.45 540.88,58.72 541.75,52.07 543.00,61.91 544.25,71.55 545.50,72.99 546.75,80.35 547.62,76.70 548.50,78.52 550.00,85.08 550.88,84.43 551.75,77.93 553.00,80.48 554.00,80.32 555.00,87.69 555.88,90.04 556.75,98.51 558.00,91.33 559.25,99.04 560.25,106.28 561.25,110.26 562.50,108.87 563.75,114.25 565.00,112.87 566.25,118.01 567.50,117.72 568.75,118.93 570.00,123.56 571.25,125.08 572.50,114.95 573.75,128.77 575.00,130.54 576.25,136.97 577.50,135.51 578.75,141.19 580.00,142.49 581.25,140.00 582.50,142.12 583.75,141.76 585.00,145.29 586.25,146.15 587.50,150.66 588.75,148.98 590.00,153.20 591.00,151.32 592.00,154.09 592.88,156.75 593.75,162.40 594.50,166.15 595.38,164.95 596.25,166.10 597.50,163.92 598.75,168.59 600.00,168.40 601.25,164.73 602.50,164.85 603.75,161.34 605.00,167.42 606.25,168.64 607.50,173.72 608.75,171.16 610.00,175.57 611.25,180.92 612.50,178.89 613.75,181.43 615.00,179.32 616.25,183.96 617.50,182.73 618.75,186.97 620.00,184.18 621.25,189.64 622.50,188.87 623.75,192.56 625.00,190.01 626.25,191.51 627.50,186.32 628.50,185.94 629.50,181.54 630.38,183.42 631.25,188.60 632.50,188.47 633.75,194.74 635.00,193.93 636.25,196.45 637.50,192.96 638.75,196.12 640.00,194.85 641.25,198.40 642.50,204.52 643.75,199.49 645.00,197.10 646.25,196.42 647.50,193.22 648.75,197.04 650.00,195.13 651.25,197.24 652.50,191.41 653.75,189.92 655.00,190.40 656.25,188.46 657.50,190.88 658.75,190.03 660.00,195.18 661.25,192.94 662.50,195.62 663.75,194.17 665.00,198.03 666.25,193.19 667.50,187.86 668.75,191.00 670.00,186.74 671.25,185.92 672.50,183.57 673.75,178.71 675.00,177.94 676.25,183.12 677.50,180.25 678.75,181.40 680.00,177.89 681.25,180.89 682.50,181.25" fill="none" stroke="#E57C38" stroke-width="0.8" stroke-linejoin="round" stroke-linecap="round" stroke-opacity="0.85"/>
<polyline points="535.50,218.50 536.00,217.46 536.50,216.44 537.00,215.45 537.50,214.47 538.00,213.52 538.50,212.58 539.00,211.66 539.50,210.76 540.00,209.87 540.50,209.00 541.00,208.15 541.50,207.31 542.50,205.67 544.50,202.54 546.50,199.57 548.50,196.76 550.50,194.06 552.50,191.47 554.50,188.96 556.50,186.53 558.50,184.15 560.50,181.84 562.50,179.56 564.50,177.33 566.50,175.13 568.50,172.95 570.50,170.80 572.50,168.68 574.50,166.57 576.50,164.47 578.50,162.40 580.50,160.33 582.50,158.27 584.50,156.23 586.50,154.19 588.50,152.16 590.50,150.14 592.50,148.13 594.50,146.13 596.50,144.13 598.50,142.13 600.50,140.14 602.50,138.16 604.50,136.18 606.50,134.21 608.50,132.24 610.50,130.28 612.50,128.32 614.50,126.37 616.50,124.42 618.50,122.47 620.50,120.53 622.50,118.59 624.50,116.66 626.50,114.74 628.50,112.81 630.50,110.89 632.50,108.98 634.50,107.07 636.50,105.16 638.50,103.26 640.50,101.36 642.50,99.47 644.50,97.58 646.50,95.69 648.50,93.81 650.50,91.94 652.50,90.06 654.50,88.20 656.50,86.33 658.50,84.47 660.50,82.62 662.50,80.76 664.50,78.92 666.50,77.07 668.50,75.23 670.50,73.40 672.50,71.57 674.50,69.74 676.50,67.92 678.50,66.10 680.50,64.29 682.50,62.48 683.90,61.21" fill="none" stroke="#5A8CC2" stroke-width="1.55" stroke-linejoin="round" stroke-linecap="round"/>
<text x="603.50" y="280.40" font-size="16" font-family="'TeX Gyre Pagella', 'Liberation Serif', serif" text-anchor="middle" fill="#000">(<tspan font-weight="bold">c</tspan>)</text>
</svg>
</body></html>
